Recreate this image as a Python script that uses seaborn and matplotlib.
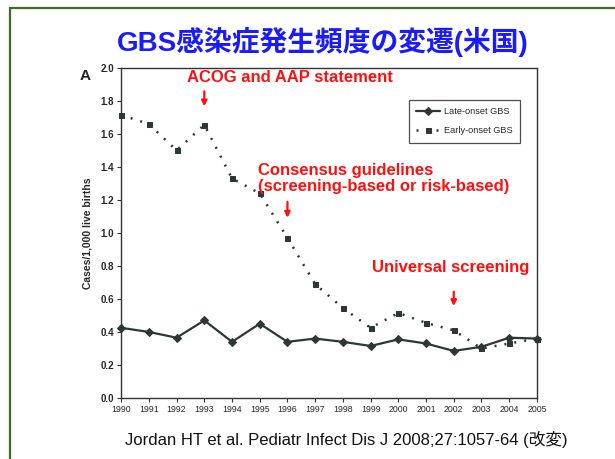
import numpy as np
import pandas as pd
import matplotlib
matplotlib.use("Agg")
import matplotlib.pyplot as plt
import seaborn as sns
from matplotlib.patches import Rectangle

# data
years = list(range(1990, 2006))
late_onset = [0.425, 0.40, 0.365, 0.47, 0.34, 0.45, 0.34, 0.36, 0.34, 0.315,
              0.355, 0.33, 0.285, 0.31, 0.365, 0.36]
early_onset = [1.715, 1.66, 1.50, 1.655, 1.33, 1.24, 0.97, 0.69, 0.545, 0.425,
               0.515, 0.455, 0.41, 0.30, 0.33, 0.36]
y_ticks = [0.0, 0.2, 0.4, 0.6, 0.8, 1.0, 1.2, 1.4, 1.6, 1.8, 2.0]

events = ["ACOG and AAP statement",
          "Consensus guidelines\n(screening-based or risk-based)",
          "Universal screening"]
event_years = [1993, 1996, 2002]

title = "GBS感染症発生頻度の変遷(米国)"
source = "Jordan HT et al. Pediatr Infect Dis J 2008;27:1057-64 (改変)"

sns.set_style("white")
plt.rcParams["font.family"] = ["Liberation Sans", "Noto Sans CJK JP", "DejaVu Sans"]

line_color = "#2e3833"
red = "#ff1010"

fig = plt.figure(figsize=(6.15, 4.59), dpi=100)
ax = fig.add_axes([0.197, 0.133, 0.676, 0.719])

df = pd.DataFrame({"year": years, "late": late_onset, "early": early_onset})
sns.lineplot(data=df, x="year", y="late", ax=ax, color=line_color, lw=1.6,
             marker="D", markersize=3.8, markeredgecolor=line_color,
             label="Late-onset GBS", clip_on=False, zorder=3)
sns.lineplot(data=df, x="year", y="early", ax=ax, color=line_color, lw=1.8,
             linestyle=(0, (0.8, 3.2)), marker="s", markersize=3.6,
             markeredgecolor=line_color, label="Early-onset GBS",
             clip_on=False, zorder=3)

ax.set_xlim(1990, 2005)
ax.set_ylim(0, 2.0)
ax.set_xticks(years)
ax.set_xticklabels([str(y) for y in years], fontsize=6.3)
ax.set_yticks(y_ticks)
ax.set_yticklabels([f"{v:.1f}" for v in y_ticks], fontsize=7, fontweight="bold")
ax.tick_params(axis="both", direction="out", length=3, width=0.8, color="#333333",
               left=True, bottom=True, pad=2)
ax.set_xlabel("")
ax.set_ylabel("Cases/1,000 live births", fontsize=7.5, fontweight="bold", labelpad=6)
for s in ax.spines.values():
    s.set_color("#333333")
    s.set_linewidth(1.0)

leg = ax.legend(loc="upper right", bbox_to_anchor=(0.959, 0.903), fontsize=6.6,
                frameon=True, fancybox=False, edgecolor="#222222",
                handlelength=2.6, borderpad=0.8, labelspacing=1.1,
                handletextpad=0.4, borderaxespad=0)
leg.get_frame().set_linewidth(0.9)

# event annotations: text anchor, alignment and arrow span (top, bottom)
label_pos = [(1996.1, 1.94, "center"), (1994.94, 1.33, "left"), (1999.05, 0.79, "left")]
arrow_span = [(1.875, 1.75), (1.205, 1.075), (0.66, 0.54)]
for txt, yr, (lx, ly, ha), (a0, a1) in zip(events, event_years, label_pos, arrow_span):
    ax.text(lx, ly, txt, color=red, fontsize=12, fontweight="bold",
            ha=ha, va="center", linespacing=1.12)
    ax.annotate("", xy=(yr, a1), xytext=(yr, a0),
                arrowprops=dict(arrowstyle="-|>", color=red, lw=1.6,
                                mutation_scale=8))

ax.text(-0.1, 0.962, "A", transform=ax.transAxes, fontsize=11, fontweight="bold")

fig.text(0.524, 0.908, title, color="#1a1aff", fontsize=20, fontweight="bold",
         ha="center", va="center")
fig.text(0.203, 0.042, source, fontsize=12, ha="left", va="center", color="#111111")

# green frame around the slide
fig.patches.append(Rectangle((10 / 615, -0.2), 1.2, 1.2 - 8 / 459,
                             transform=fig.transFigure, fill=False,
                             edgecolor="#3f6b22", lw=1.6))

fig.savefig("out.png", dpi=100)
